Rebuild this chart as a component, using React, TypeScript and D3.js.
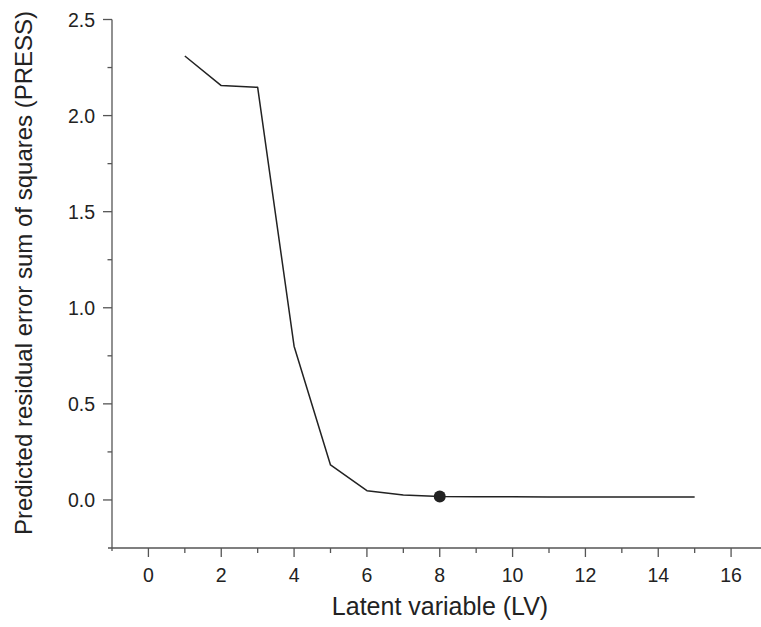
import React from "react";
import * as d3 from "d3";

const lv = [1, 2, 3, 4, 5, 6, 7, 8, 9, 10, 11, 12, 13, 14, 15];
const press = [2.31, 2.156, 2.147, 0.8, 0.182, 0.048, 0.026, 0.018, 0.017, 0.017, 0.016, 0.016, 0.016, 0.016, 0.015];
const optimalLV = 8;
const xMajorTicks = [0, 2, 4, 6, 8, 10, 12, 14, 16];
const xMinorTicks = [1, 3, 5, 7, 9, 11, 13, 15, 17];
const yMajorTicks = [0, 0.5, 1.0, 1.5, 2.0, 2.5];
const yMinorTicks = [0.25, 0.75, 1.25, 1.75, 2.25];
const xLabel = "Latent variable (LV)";
const yLabel = "Predicted residual error sum of squares (PRESS)";

const W = 761;
const H = 627;
const FONT = "'Liberation Sans', Arial, Helvetica, sans-serif";
const AXIS = "#555";
const TEXT = "#222";

export default function App() {
  const x = d3.scaleLinear().domain([-1, 17]).range([112, 767.5]);
  const y = d3.scaleLinear().domain([-0.25, 2.5]).range([548, 19.5]);
  const line = d3
    .line<number>()
    .x((_, i) => x(lv[i]))
    .y((d) => y(d));
  const pts = press;
  const optIdx = lv.indexOf(optimalLV);
  const x0 = x.range()[0];
  const y0 = y.range()[0];

  return (
    <svg
      width={W}
      height={H}
      style={{ position: "absolute", left: 0, top: 0, background: "#fff" }}
      fontFamily={FONT}
    >
      <rect x={0} y={0} width={W} height={H} fill="#fff" />
      {/* axes */}
      <line x1={x0} x2={x0} y1={y(2.5)} y2={y0 + 3} stroke={AXIS} strokeWidth={1.3} />
      <line x1={x0 - 4} x2={x.range()[1]} y1={y0} y2={y0} stroke={AXIS} strokeWidth={1.3} />
      {yMajorTicks.map((t) => (
        <g key={"ym" + t}>
          <line x1={x0 - 9} x2={x0} y1={y(t)} y2={y(t)} stroke={AXIS} strokeWidth={1.3} />
          <text x={x0 - 17} y={y(t)} dy="0.36em" textAnchor="end" fontSize={19.5} fill={TEXT}>
            {d3.format(".1f")(t)}
          </text>
        </g>
      ))}
      {yMinorTicks.map((t) => (
        <line key={"yn" + t} x1={x0 - 4.5} x2={x0} y1={y(t)} y2={y(t)} stroke={AXIS} strokeWidth={1.3} />
      ))}
      {xMajorTicks.map((t) => (
        <g key={"xm" + t}>
          <line x1={x(t)} x2={x(t)} y1={y0} y2={y0 + 9} stroke={AXIS} strokeWidth={1.3} />
          <text x={x(t)} y={y0 + 34} textAnchor="middle" fontSize={19.5} fill={TEXT}>
            {t}
          </text>
        </g>
      ))}
      {xMinorTicks.map((t) => (
        <line key={"xn" + t} x1={x(t)} x2={x(t)} y1={y0} y2={y0 + 5} stroke={AXIS} strokeWidth={1.3} />
      ))}
      {/* data */}
      <path d={line(pts) || ""} fill="none" stroke="#222" strokeWidth={1.5} strokeLinejoin="round" />
      <circle cx={x(lv[optIdx])} cy={y(pts[optIdx])} r={6} fill="#222" />
      {/* labels */}
      <text x={440} y={615} textAnchor="middle" fontSize={25} fill={TEXT}>
        {xLabel}
      </text>
      <text
        transform={`translate(32, 273) rotate(-90)`}
        textAnchor="middle"
        fontSize={24}
        fill={TEXT}
      >
        {yLabel}
      </text>
    </svg>
  );
}
